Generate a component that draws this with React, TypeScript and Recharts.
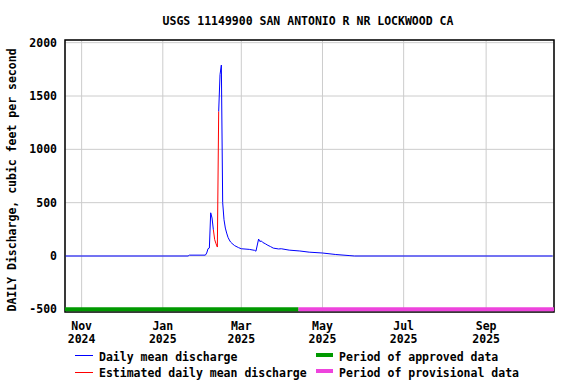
import { LineChart, Line, XAxis, YAxis, CartesianGrid, ReferenceArea, Legend } from "recharts";

const TITLE = "USGS 11149900 SAN ANTONIO R NR LOCKWOOD CA";
const Y_LABEL = "DAILY Discharge, cubic feet per second";

// plot window (water-year style, a few days padding each side)
const X_START = "2024-10-19T12:00:00Z";
const X_END = "2025-10-22T00:00:00Z";
const Y_MIN = -525;
const Y_MAX = 2025;
const yTicks = [-500, 0, 500, 1000, 1500, 2000];

const xTickDates = ["2024-11-01", "2025-01-01", "2025-03-01", "2025-05-01", "2025-07-01", "2025-09-01"];
const xTickMonths = ["Nov", "Jan", "Mar", "May", "Jul", "Sep"];
const xTickYears = ["2024", "2025", "2025", "2025", "2025", "2025"];

// daily mean discharge, cfs (null = estimated days, drawn in red)
const flowDates = [
  "2024-10-20", "2025-01-20", "2025-01-21", "2025-02-02", "2025-02-03", "2025-02-04",
  "2025-02-05", "2025-02-06", "2025-02-07", "2025-02-08", "2025-02-10", "2025-02-12",
  "2025-02-13", "2025-02-14", "2025-02-15", "2025-02-16", "2025-02-17", "2025-02-18",
  "2025-02-19", "2025-02-20", "2025-02-21", "2025-02-22", "2025-02-24", "2025-02-27",
  "2025-03-01", "2025-03-07", "2025-03-11", "2025-03-12", "2025-03-14", "2025-03-15",
  "2025-03-16", "2025-03-17", "2025-03-19", "2025-03-21", "2025-03-23", "2025-03-25",
  "2025-03-29", "2025-03-31", "2025-04-06", "2025-04-14", "2025-04-21", "2025-05-01",
  "2025-05-11", "2025-05-21", "2025-05-25", "2025-10-21",
];
const flowValues = [
  0, 0, 8, 8, 28, 68,
  75, 405, 356, 246, null, 1354,
  1700, 1790, 500, 340, 262, 215,
  175, 150, 130, 118, 97, 78,
  68, 62, 53, 45, 159, 135,
  142, 128, 115, 100, 88, 74,
  66, 68, 55, 47, 36, 28,
  14, 4, 0, 0,
];

// estimated daily mean discharge, cfs
const estDates = ["2025-02-08", "2025-02-09", "2025-02-10", "2025-02-11", "2025-02-12"];
const estValues = [246, 153, 115, 84, 1354];

// data-approval periods, drawn as bars at -500
const approvedPeriod = [X_START, "2025-04-13"];
const provisionalPeriod = ["2025-04-13", X_END];
const PERIOD_LEVEL = -500;

const toT = (d: string) => Date.parse(d.length === 10 ? d + "T00:00:00Z" : d);

const flowData = flowDates.map((d, i) => ({ t: toT(d), q: flowValues[i] }));
const estData = estDates.map((d, i) => ({ t: toT(d), q: estValues[i] }));
const approvedData = approvedPeriod.map((d) => ({ t: toT(d), q: PERIOD_LEVEL }));
const provisionalData = provisionalPeriod.map((d) => ({ t: toT(d), q: PERIOD_LEVEL }));
const xTicks = xTickDates.map(toT);

const legendItems = [
  { name: "Daily mean discharge", color: "#0000ff", thick: false },
  { name: "Estimated daily mean discharge", color: "#ff0000", thick: false },
  { name: "Period of approved data", color: "#009900", thick: true },
  { name: "Period of provisional data", color: "#ee44dd", thick: true },
];

const FONT = "'DejaVu Sans Mono', monospace";
const textStyle = { fontFamily: FONT, fontWeight: "bold" as const, fontSize: 11.5, fill: "#000" };

const DateTick = ({ x, y, payload }: any) => {
  const i = xTicks.indexOf(payload.value);
  return (
    <text x={x} y={y} textAnchor="middle" style={textStyle}>
      <tspan x={x} dy={9.5}>{xTickMonths[i]}</tspan>
      <tspan x={x} dy={13.8}>{xTickYears[i]}</tspan>
    </text>
  );
};

const LegendBox = () => (
  <svg width={576} height={44}>
    {legendItems.map((it, i) => {
      const col = Math.floor(i / 2);
      const row = i % 2;
      const x0 = col ? 316 : 75;
      const ly = it.thick ? 15 + row * 16 : 15.5 + row * 17;
      return (
        <g key={it.name}>
          <line x1={x0} x2={x0 + (it.thick ? 17 : 18)} y1={ly} y2={ly} stroke={it.color} strokeWidth={it.thick ? 4 : 1} />
          <text x={x0 + (col ? 23 : 24)} y={21 + row * 16} style={textStyle}>{it.name}</text>
        </g>
      );
    })}
  </svg>
);

export default function App() {
  return (
    <div style={{ position: "absolute", left: 0, top: 0, width: 576, height: 384, background: "#fff" }}>
      <LineChart width={576} height={384} margin={{ top: 40, right: 22, left: 0, bottom: 32 }}>
        <CartesianGrid stroke="#cccccc" />
        <XAxis
          dataKey="t"
          type="number"
          domain={[toT(X_START), toT(X_END)]}
          allowDataOverflow
          ticks={xTicks}
          tick={<DateTick />}
          tickLine={false}
          axisLine={false}
          height={40}
          interval={0}
        />
        <YAxis
          type="number"
          domain={[Y_MIN, Y_MAX]}
          allowDataOverflow
          ticks={yTicks}
          width={65}
          tickLine={false}
          axisLine={false}
          tick={textStyle}
          interval={0}
          label={{ value: Y_LABEL, angle: -90, position: "center", dx: -21, dy: 4, style: textStyle }}
        />
        <Line data={approvedData} dataKey="q" name={legendItems[2].name} stroke={legendItems[2].color} strokeWidth={4} dot={false} isAnimationActive={false} />
        <Line data={provisionalData} dataKey="q" name={legendItems[3].name} stroke={legendItems[3].color} strokeWidth={4} dot={false} isAnimationActive={false} />
        <Line data={flowData} dataKey="q" name={legendItems[0].name} stroke={legendItems[0].color} strokeWidth={1} dot={false} connectNulls={false} isAnimationActive={false} />
        <Line data={estData} dataKey="q" name={legendItems[1].name} stroke={legendItems[1].color} strokeWidth={1} dot={false} isAnimationActive={false} />
        <ReferenceArea
          x1={toT(X_START)}
          x2={toT(X_END)}
          y1={Y_MIN}
          y2={Y_MAX}
          fill="none"
          stroke="#000"
          strokeWidth={1.5}
        />
        <Legend
          layout="vertical"
          align="center"
          verticalAlign="middle"
          content={<LegendBox />}
          wrapperStyle={{ left: 0, top: 340, width: 576, height: 44 }}
        />
      </LineChart>
      <svg width={576} height={32} style={{ position: "absolute", left: 0, top: 0 }}>
        <text x={308} y={25} textAnchor="middle" style={textStyle}>{TITLE}</text>
      </svg>
    </div>
  );
}
